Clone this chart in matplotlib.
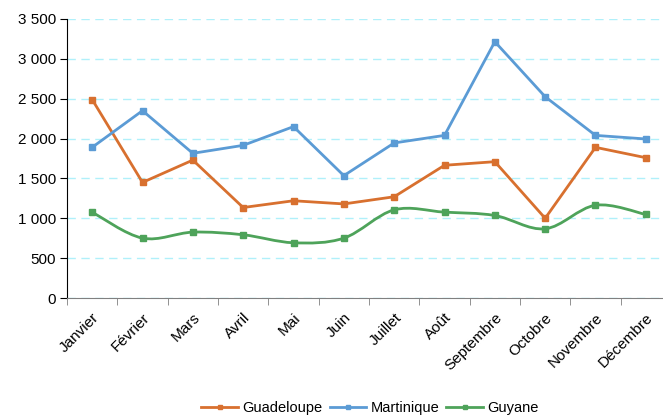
import numpy as np
import matplotlib
matplotlib.use("Agg")
import matplotlib.pyplot as plt
from matplotlib.path import Path
from matplotlib.patches import PathPatch
from matplotlib.lines import Line2D
from matplotlib.ticker import FuncFormatter, FixedLocator

plt.rcParams['font.family'] = ['Liberation Sans', 'DejaVu Sans']

mois = ["Janvier", "Février", "Mars", "Avril", "Mai", "Juin", "Juillet",
        "Août", "Septembre", "Octobre", "Novembre", "Décembre"]
guadeloupe = [2490, 1450, 1730, 1135, 1220, 1180, 1270, 1665, 1710, 1000, 1890, 1760]
martinique = [1890, 2350, 1815, 1915, 2150, 1535, 1945, 2040, 3215, 2525, 2040, 1995]
guyane = [1077, 751, 826, 793, 693, 751, 1106, 1077, 1035, 868, 1164, 1048]

c_gua = '#D8702F'
c_mar = '#5B9BD5'
c_guy = '#4EA35A'

fig = plt.figure(figsize=(6.63, 4.16), dpi=100)
ax = fig.add_axes([67/663, 118/416, 604/663, 279/416])
x = np.arange(len(mois))

ax.plot(x, guadeloupe, color=c_gua, lw=2, marker='s', ms=4, zorder=3)
ax.plot(x, martinique, color=c_mar, lw=2, marker='s', ms=4, zorder=3)

# smoothed line (Excel-like bezier)
pts = np.column_stack([x, guyane]).astype(float)
verts = [tuple(pts[0])]
codes = [Path.MOVETO]
n = len(pts)
for i in range(n - 1):
    p0 = pts[max(i - 1, 0)]
    p1 = pts[i]
    p2 = pts[i + 1]
    p3 = pts[min(i + 2, n - 1)]
    c1 = p1 + (p2 - p0) / 6
    c2 = p2 - (p3 - p1) / 6
    verts += [tuple(c1), tuple(c2), tuple(p2)]
    codes += [Path.CURVE4] * 3
ax.add_patch(PathPatch(Path(verts, codes), fill=False, edgecolor=c_guy, lw=2, zorder=3))
ax.plot(x, guyane, color=c_guy, lw=0, marker='s', ms=4, zorder=3)

ax.set_xlim(-0.5, 11.5)
ax.set_ylim(0, 3500)
ax.set_yticks(np.arange(0, 3501, 500))
ax.yaxis.set_major_formatter(FuncFormatter(lambda v, p: f"{int(v):,}".replace(",", " ")))
ax.grid(axis='y', color='#B0F0FA', linestyle=(0, (6, 4)), lw=1)
ax.set_axisbelow(True)

ax.set_xticks(x)
ax.set_xticklabels(mois, rotation=45, ha='right', rotation_mode='anchor')
ax.xaxis.set_minor_locator(FixedLocator(np.arange(-0.5, 12, 1)))
ax.tick_params(axis='x', which='major', length=0, pad=9, labelsize=11)
ax.tick_params(axis='x', which='minor', length=5, color='#808080')
ax.tick_params(axis='y', length=5, labelsize=11, pad=3)

for s in ['top', 'right']:
    ax.spines[s].set_visible(False)
ax.spines['left'].set_color('black')
ax.spines['bottom'].set_color('#808080')

handles = [Line2D([], [], color=c_gua, lw=2, marker='s', ms=3),
           Line2D([], [], color=c_mar, lw=2, marker='s', ms=3),
           Line2D([], [], color=c_guy, lw=2, marker='s', ms=3)]
fig.legend(handles, ["Guadeloupe", "Martinique", "Guyane"], loc='center',
           bbox_to_anchor=(370/663, 1 - 408/416), ncol=3, frameon=False,
           fontsize=10.5, handlelength=2.5, handletextpad=0.3, columnspacing=0.5)

fig.savefig("out.png", dpi=100)
